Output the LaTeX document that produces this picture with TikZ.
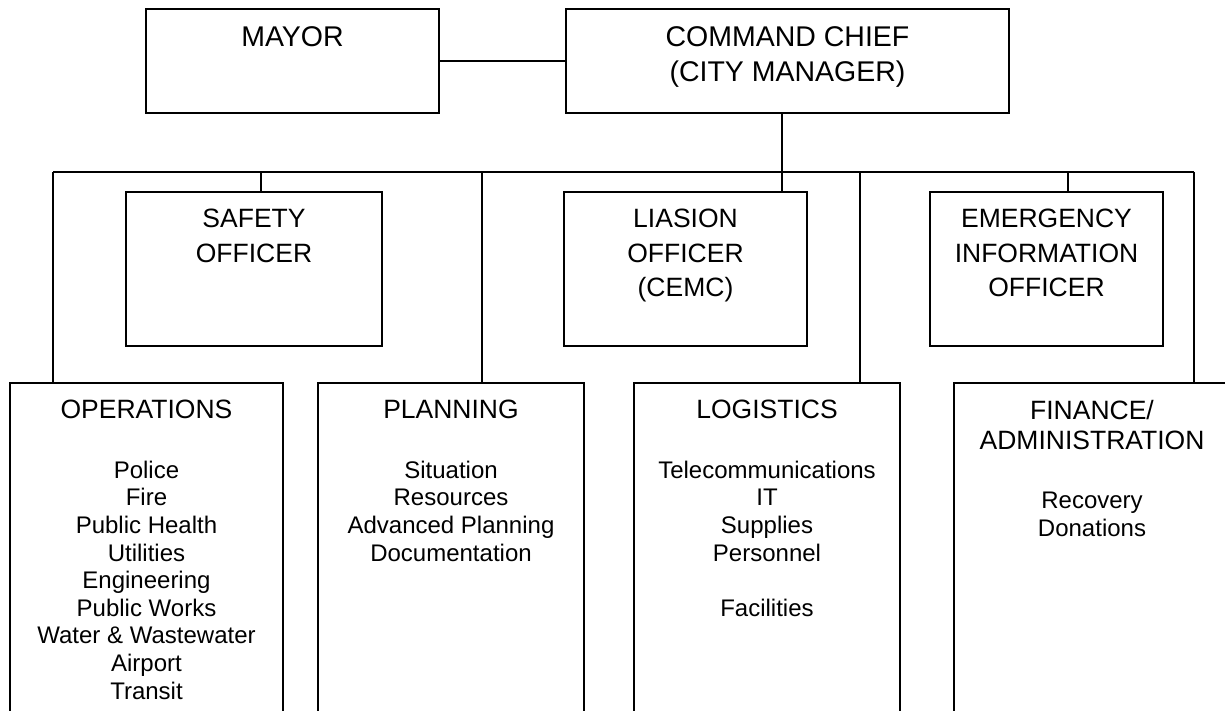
\documentclass[tikz,border=0pt]{standalone}
\usepackage{fontspec}
\setmainfont{Liberation Sans}
\begin{document}
\begin{tikzpicture}[x=1pt,y=-1pt,
  box/.style={draw,line width=1.2pt,inner sep=0pt,outer sep=0pt,anchor=north west,rectangle},
  wire/.style={line width=1.2pt},
  ttl/.style={inner sep=0pt,anchor=north,align=center,font=\fontsize{28.5}{35}\selectfont},
  hd/.style={inner sep=0pt,anchor=north,align=center,font=\fontsize{26.5}{34.5}\selectfont},
  itm/.style={inner sep=0pt,anchor=north,align=center,font=\fontsize{24}{27.6}\selectfont}]
\useasboundingbox (0,0) rectangle (1225,711);
\clip (0,0) rectangle (1225,711);
% boxes
\node[box,minimum width=293pt,minimum height=104pt] (mayor) at (146,9) {};
\node[box,minimum width=443pt,minimum height=104pt] (chief) at (566,9) {};
\node[box,minimum width=256pt,minimum height=154pt] (safety) at (126,192) {};
\node[box,minimum width=243pt,minimum height=154pt] (liaison) at (564,192) {};
\node[box,minimum width=233pt,minimum height=154pt] (eio) at (930,192) {};
\node[box,minimum width=273pt,minimum height=360pt] (ops) at (10,383) {};
\node[box,minimum width=266pt,minimum height=360pt] (plan) at (318,383) {};
\node[box,minimum width=266pt,minimum height=360pt] (logi) at (634,383) {};
\node[box,minimum width=276pt,minimum height=360pt] (fin) at (954,383) {};
% texts
\node[ttl] (mayorT) at (292.5,26.5) {MAYOR};
\node[ttl] (chiefT) at (787.5,26.5) {COMMAND CHIEF\\(CITY MANAGER)};
\node[hd] (safetyT) at (254,209) {SAFETY\\OFFICER};
\node[hd] (liaisonT) at (685.5,209) {LIASION\\OFFICER\\(CEMC)};
\node[hd] (eioT) at (1046.5,209) {EMERGENCY\\INFORMATION\\OFFICER};
\node[hd] (opsT) at (146.5,400) {OPERATIONS};
\node[itm] (opsL) at (146.5,460.7) {Police\\Fire\\Public Health\\Utilities\\Engineering\\Public Works\\Water \& Wastewater\\Airport\\Transit};
\node[hd] (planT) at (451,400) {PLANNING};
\node[itm] (planL) at (451,460.7) {Situation\\Resources\\Advanced Planning\\Documentation};
\node[hd] (logiT) at (767,400) {LOGISTICS};
\node[itm] (logiL) at (767,460.7) {Telecommunications\\IT\\Supplies\\Personnel\\[27.6pt]Facilities};
\node[hd,font=\fontsize{26.5}{30.5}\selectfont] (finT) at (1092,400) {FINANCE/\\ADMINISTRATION};
\node[itm] (finL) at (1092,491.7) {Recovery\\Donations};
% connectors
\draw[wire] (mayor.east) -- (chief.west);
\coordinate (cdrop) at (782,113);
\draw[wire] (cdrop) -- (cdrop |- liaison.north);
\coordinate (busL) at (53,172);
\coordinate (busR) at (1194,172);
\draw[wire] (busL) -- (busR);
\draw[wire] (busL) -- (busL |- ops.north);
\coordinate (bSaf) at (261,172);
\draw[wire] (bSaf) -- (bSaf |- safety.north);
\coordinate (bPlan) at (482,172);
\draw[wire] (bPlan) -- (bPlan |- plan.north);
\coordinate (bLog) at (860,172);
\draw[wire] (bLog) -- (bLog |- logi.north);
\coordinate (bEio) at (1068,172);
\draw[wire] (bEio) -- (bEio |- eio.north);
\draw[wire] (busR) -- (busR |- fin.north);
\end{tikzpicture}
\end{document}
